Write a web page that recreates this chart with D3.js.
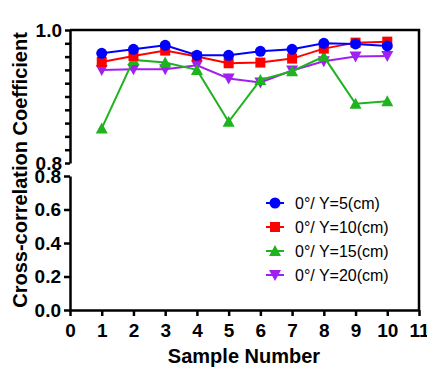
<html>
<head>
<script src="https://d3js.org/d3.v7.min.js"></script>
<style>
  body {margin:0; background:#fff; font-family:"Liberation Sans", Arial, sans-serif;}
</style>
</head>
<body>
<script>
// data
var samples = [1,2,3,4,5,6,7,8,9,10]
var y5  = [0.965,0.971,0.977,0.962,0.962,0.968,0.971,0.980,0.979,0.976]
var y10 = [0.952,0.961,0.969,0.960,0.950,0.951,0.957,0.972,0.981,0.9825]
var y15 = [0.852,0.955,0.951,0.940,0.862,0.925,0.938,0.960,0.889,0.893]
var y20 = [0.940,0.941,0.941,0.947,0.927,0.921,0.939,0.953,0.960,0.961]
var seriesNames = ["0°/ Y=5(cm)","0°/ Y=10(cm)","0°/ Y=15(cm)","0°/ Y=20(cm)"]
var seriesColors = ["#0000ff","#ff0000","#1fb31f","#a020f0"]
var seriesShapes = ["circle","square","triangle","down"]
var xTicks = [0,1,2,3,4,5,6,7,8,9,10,11]
var lowTicks = [0,0.2,0.4,0.6,0.8]
var highTicks = [0.8,1.0]

var width = 427, height = 367
var svg = d3.select("body").append("svg")
    .attr("width", width)
    .attr("height", height)

var x = d3.scaleLinear().domain([0,11]).range([70,419])
var yTop = d3.scaleLinear().domain([0.8,1.0]).range([163,30])
var yBot = d3.scaleLinear().domain([0,0.8]).range([310,176])

var bold = "'Liberation Sans', Arial, sans-serif"

// frame: top + right lines
svg.append("path")
    .attr("d", "M" + x(0) + "," + yTop(1) + "H" + x(11) + "V" + yBot(0))
    .attr("fill","none").attr("stroke","#000").attr("stroke-width",2.5)

// x axis
var xAxis = svg.append("g")
    .attr("transform","translate(0," + yBot(0) + ")")
    .call(d3.axisBottom(x).tickValues(xTicks).tickSize(6).tickSizeOuter(0).tickPadding(3))
// lower y axis
var yAxisB = svg.append("g")
    .attr("transform","translate(" + x(0) + ",0)")
    .call(d3.axisLeft(yBot).tickValues(lowTicks).tickFormat(d3.format(".1f")).tickSize(6).tickSizeOuter(0).tickPadding(3))
// upper y axis, minor ticks every 0.02
var yAxisT = svg.append("g")
    .attr("transform","translate(" + x(0) + ",0)")
    .call(d3.axisLeft(yTop).tickValues(d3.range(0,11).map(function(i){return 0.8 + i*0.02}))
        .tickFormat(function(d){
          return highTicks.some(function(h){ return Math.abs(d-h)<1e-6 }) ? d3.format(".1f")(d) : "" })
        .tickSize(5).tickSizeOuter(0).tickPadding(3))

;[xAxis, yAxisB, yAxisT].forEach(function(g){
  g.selectAll("path.domain").attr("stroke","#000").attr("stroke-width",2.5)
  g.selectAll(".tick line").attr("stroke","#000").attr("stroke-width",2.5)
  g.selectAll("text").attr("fill","#000")
    .style("font-family", bold).style("font-weight","bold").style("font-size","19px")
})
xAxis.selectAll("text").attr("dy","0.95em")

// axis titles
svg.append("text")
    .attr("x", 244).attr("y", 363)
    .attr("text-anchor","middle")
    .style("font-family", bold).style("font-weight","bold").style("font-size","20px")
    .text("Sample Number")
svg.append("text")
    .attr("transform","translate(27," + 170 + ") rotate(-90)")
    .attr("text-anchor","middle")
    .style("font-family", bold).style("font-weight","bold").style("font-size","20px")
    .text("Cross-correlation Coefficient")

function marker(shape) {
  var r = 5.5
  if (shape == "circle") return d3.symbol().type(d3.symbolCircle).size(Math.PI*r*r)()
  if (shape == "square") return "M-5,-5H5V5H-5Z"
  if (shape == "triangle") return "M0,-6L6,5H-6Z"
  return "M0,6L6,-5H-6Z"
}

var line = d3.line()
    .x(function(d){ return x(d[0]) })
    .y(function(d){ return yTop(d[1]) })

var allSeries = [y5, y10, y15, y20]
// draw last series first so the blue one ends on top
for (var s = allSeries.length - 1; s >= 0; s--) {
  var pts = samples.map(function(v,i){ return [v, allSeries[s][i]] })
  var g = svg.append("g")
  g.append("path").datum(pts)
    .attr("d", line)
    .attr("fill","none").attr("stroke", seriesColors[s]).attr("stroke-width",2)
  g.selectAll("path.pt").data(pts).enter().append("path")
    .attr("class","pt")
    .attr("transform", function(d){ return "translate(" + x(d[0]) + "," + yTop(d[1]) + ")" })
    .attr("d", marker(seriesShapes[s]))
    .attr("fill", seriesColors[s])
}

// legend
var legend = svg.append("g")
seriesNames.forEach(function(name, i){
  var ly = 203 + i*24
  legend.append("line").attr("x1",266).attr("x2",284).attr("y1",ly).attr("y2",ly)
    .attr("stroke", seriesColors[i]).attr("stroke-width",2)
  legend.append("path").attr("transform","translate(275," + ly + ")")
    .attr("d", marker(seriesShapes[i])).attr("fill", seriesColors[i])
  legend.append("text").attr("x",295).attr("y",ly).attr("dy","0.35em")
    .style("font-family", bold).style("font-size","16px")
    .text(name)
})
</script>
</body>
</html>
